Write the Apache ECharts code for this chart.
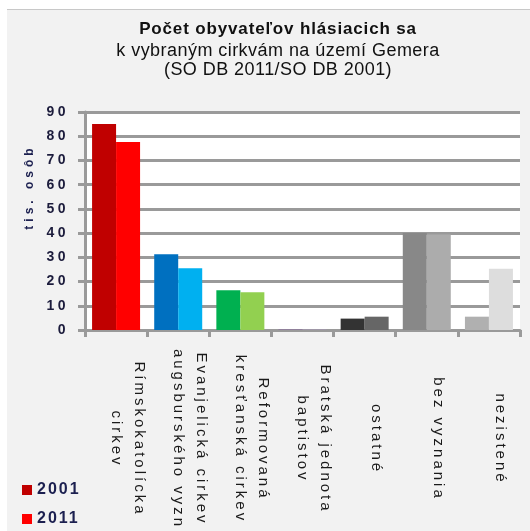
<!DOCTYPE html>
<html>
<head>
<meta charset="utf-8">
<script src="https://cdn.jsdelivr.net/npm/echarts@6/dist/echarts.min.js"></script>
<style>
html,body{margin:0;padding:0;background:#fff;width:530px;height:531px;overflow:hidden;}
#topline{position:absolute;left:7px;top:9px;width:523px;height:1px;background:#c8c8c8;}
#c{position:absolute;left:7px;top:10px;width:523px;height:521px;background:#f2f2f2;}
</style>
</head>
<body>
<div id="topline"></div>
<div id="c"></div>
<script>
// ---- data ----
const categories = [
  'Rímskokatolícka\ncirkev',
  'Evanjelická cirkev\naugsburského vyzn',
  'Reformovaná\nkresťanská cirkev',
  'Bratská jednota\nbaptistov',
  'ostatné',
  'bez vyznania',
  'nezistené'
];
const values2001 = [85, 31.3, 16.4, 0.1, 4.7, 40, 5.5];
const values2011 = [77.6, 25.5, 15.6, 0.1, 5.5, 39.4, 25.3];
const colors2001 = ['#c00000', '#0070c0', '#00b050', '#7030a0', '#333333', '#888888', '#b0b0b0'];
const colors2011 = ['#ff0000', '#00b0f0', '#92d050', '#b090d0', '#666666', '#acacac', '#dddddd'];
const yTicks = [0, 10, 20, 30, 40, 50, 60, 70, 80, 90];
const seriesNames = ['2001', '2011'];

// letter spacing emulation (canvas) keyed on font size
const LS = [['15px', 3], ['14px', 3.5], ['16px', 2], ['17px', 0.85], ['18px', 0.45], ['12px', 4]];
const origFill = CanvasRenderingContext2D.prototype.fillText;
CanvasRenderingContext2D.prototype.fillText = function (t, x, y, m) {
  const f = this.font || '';
  let ls = '0px';
  for (const [k, v] of LS) {
    if (f.indexOf(' ' + k) >= 0 || f.indexOf(k) === 0) { ls = v + 'px'; break; }
  }
  try { this.letterSpacing = ls; } catch (e) {}
  return m === undefined ? origFill.call(this, t, x, y) : origFill.call(this, t, x, y, m);
};

const FF = 'Arial, "Liberation Sans", sans-serif';
const gridColor = '#9a9a9a';

const chart = echarts.init(document.getElementById('c'), null, { renderer: 'canvas' });
chart.setOption({
  backgroundColor: 'transparent',
  animation: false,
  title: {
    text: 'Počet obyvateľov hlásiacich sa',
    subtext: 'k vybraným cirkvám na území Gemera\n(SO DB 2011/SO DB 2001)',
    left: 266,
    top: 6,
    textAlign: 'center',
    itemGap: 4,
    textStyle: { fontSize: 17, fontWeight: 'bold', color: '#111', fontFamily: FF },
    subtextStyle: { fontSize: 18, color: '#111', lineHeight: 19, fontFamily: FF }
  },
  legend: {
    data: seriesNames,
    orient: 'vertical',
    left: 15,
    top: 472,
    height: 49,
    padding: 0,
    itemWidth: 10,
    itemHeight: 10,
    itemGap: 13,
    icon: 'rect',
    textStyle: { fontSize: 16, fontWeight: 'bold', color: '#1c2050', fontFamily: FF }
  },
  grid: { left: 78, right: 10, top: 102, bottom: 201, show: true, backgroundColor: '#ffffff', borderWidth: 0 },
  xAxis: {
    type: 'category',
    data: categories,
    axisLine: { lineStyle: { color: gridColor, width: 3 } },
    axisTick: { show: true, length: 7, alignWithLabel: false, lineStyle: { color: gridColor, width: 3 } },
    axisLabel: {
      interval: 0, rotate: -90, align: 'center', verticalAlign: 'middle',
      margin: 109, fontSize: 15, lineHeight: 23, color: '#1a1a1a', fontFamily: FF,
      formatter: v => v + '\n\u00a0'
    },
    splitLine: { show: false }
  },
  yAxis: {
    type: 'value',
    min: yTicks[0],
    max: yTicks[yTicks.length - 1],
    interval: yTicks[1] - yTicks[0],
    axisLine: { show: true, lineStyle: { color: gridColor, width: 3 } },
    axisTick: { show: true, length: 7, lineStyle: { color: gridColor, width: 3 } },
    axisLabel: { fontSize: 14, fontWeight: 'bold', color: '#1c1c3c', margin: 16, fontFamily: FF },
    splitLine: { show: true, lineStyle: { color: gridColor, width: 3 } }
  },
  graphic: [{
    type: 'text',
    x: 23, y: 177,
    rotation: Math.PI / 2,
    style: {
      text: 'tis. osôb', fontSize: 12, fontFamily: FF, fontWeight: 'bold',
      fill: '#1c2050', align: 'center', verticalAlign: 'middle',
      textAlign: 'center', textVerticalAlign: 'middle'
    }
  }],
  series: [
    {
      name: seriesNames[0], type: 'bar', barWidth: 24, barGap: '0%',
      itemStyle: { color: colors2001[0] },
      data: values2001.map((v, i) => ({ value: v, itemStyle: { color: colors2001[i] } }))
    },
    {
      name: seriesNames[1], type: 'bar', barWidth: 24, barGap: '0%',
      itemStyle: { color: colors2011[0] },
      data: values2011.map((v, i) => ({ value: v, itemStyle: { color: colors2011[i] } }))
    }
  ]
});
</script>
</body>
</html>
